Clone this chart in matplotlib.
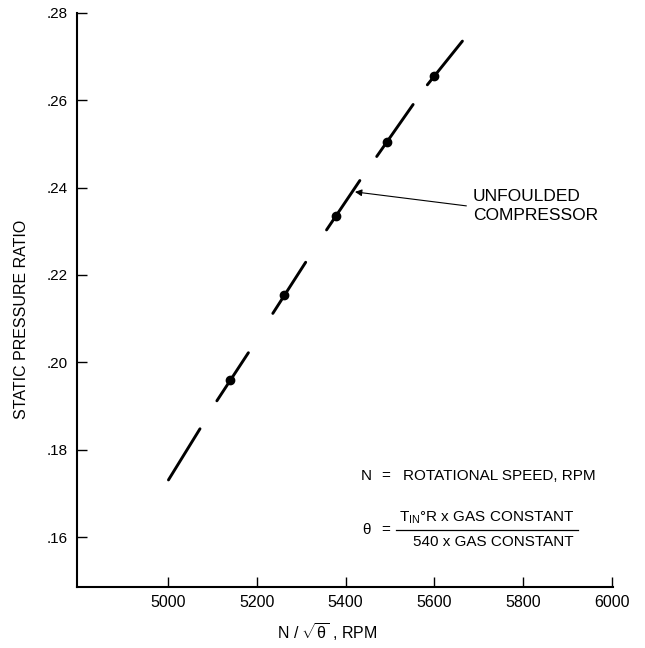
import matplotlib
matplotlib.use("Agg")
import matplotlib.pyplot as plt
from matplotlib.lines import Line2D

plt.rcParams['font.family'] = ['Liberation Sans', 'DejaVu Sans']
plt.rcParams['mathtext.fontset'] = 'custom'
plt.rcParams['mathtext.rm'] = 'Liberation Sans'
plt.rcParams['mathtext.it'] = 'Liberation Sans'
plt.rcParams['mathtext.bf'] = 'Liberation Sans:bold'

# ---- data ----
point_speed = [5140, 5261, 5378, 5494, 5599]
point_ratio = [0.1960, 0.2154, 0.2335, 0.2505, 0.2655]

# dashed curve drawn as separate segments
seg_x_start = [5001, 5110, 5236, 5357, 5470, 5584]
seg_x_end = [5072, 5181, 5310, 5432, 5552, 5663]
seg_y_start = [0.1731, 0.1912, 0.2112, 0.2303, 0.2471, 0.2635]
seg_y_end = [0.1848, 0.2022, 0.2229, 0.2416, 0.2590, 0.2735]

x_ticks = [5000, 5200, 5400, 5600, 5800, 6000]
y_ticks = [0.16, 0.18, 0.20, 0.22, 0.24, 0.26, 0.28]
y_tick_labels = ['.16', '.18', '.20', '.22', '.24', '.26', '.28']

W, H = 645, 648
fig = plt.figure(figsize=(W / 100, H / 100), dpi=100)
fig.patch.set_facecolor('white')


def fx(px):
    return px / W


def fy(py):
    return 1 - py / H


ax = fig.add_axes([fx(77), fy(587), fx(612.5) - fx(77), fy(12.7) - fy(587)])
ax.set_xlim(4795, 6001)
ax.set_ylim(0.1486, 0.28)

for xs, xe, ys, ye in zip(seg_x_start, seg_x_end, seg_y_start, seg_y_end):
    ax.plot([xs, xe], [ys, ye], color='black', lw=2.1, solid_capstyle='round')

ax.plot(point_speed, point_ratio, 'o', color='black', ms=6, clip_on=False)

ax.spines['top'].set_visible(False)
ax.spines['right'].set_visible(False)
ax.spines['left'].set_linewidth(1.5)
ax.spines['bottom'].set_linewidth(1.5)

ax.set_xticks(x_ticks)
ax.set_xticklabels([str(v) for v in x_ticks])
ax.set_yticks(y_ticks)
ax.set_yticklabels(y_tick_labels)
ax.tick_params(axis='both', direction='in', length=7, width=1.0,
               colors='black')
ax.tick_params(axis='x', pad=6, labelsize=11.5)
ax.tick_params(axis='y', pad=7, labelsize=11)

# axis labels
fig.text(fx(22), fy(319), 'STATIC PRESSURE RATIO', rotation=90,
         ha='center', va='center', fontsize=11.5)
fig.text(fx(327), fy(632), r'N / $\sqrt{\theta}$ , RPM', ha='center',
         va='center', fontsize=11.5)

# annotation
ax.annotate('UNFOULDED\nCOMPRESSOR', xy=(5421, 0.2390), xytext=(5686, 0.2358),
            ha='left', va='center', fontsize=12.5, linespacing=1.35,
            arrowprops=dict(arrowstyle='-|>', color='black', lw=0.8,
                            mutation_scale=10, shrinkA=0, shrinkB=0,
                            relpos=(-0.05, 0.5)))

# legend / definitions
fig.text(fx(361), fy(476), 'N', ha='left', va='center', fontsize=11)
fig.text(fx(381), fy(476), '=', ha='left', va='center', fontsize=11)
fig.text(fx(403), fy(476), 'ROTATIONAL SPEED, RPM', ha='left', va='center',
         fontsize=11)

fig.text(fx(362), fy(530), r'$\theta$', ha='left', va='center', fontsize=11)
fig.text(fx(381), fy(530), '=', ha='left', va='center', fontsize=11)
fig.text(fx(486.5), fy(518), r'T$_{\mathrm{IN}}$°R x GAS CONSTANT',
         ha='center', va='center', fontsize=11)
fig.text(fx(493), fy(542.5), '540 x GAS CONSTANT', ha='center', va='center',
         fontsize=11)
fig.add_artist(Line2D([fx(396), fx(578)], [fy(530), fy(530)],
                      color='black', lw=0.9, transform=fig.transFigure))

fig.savefig('out.png', dpi=100, facecolor='white')
